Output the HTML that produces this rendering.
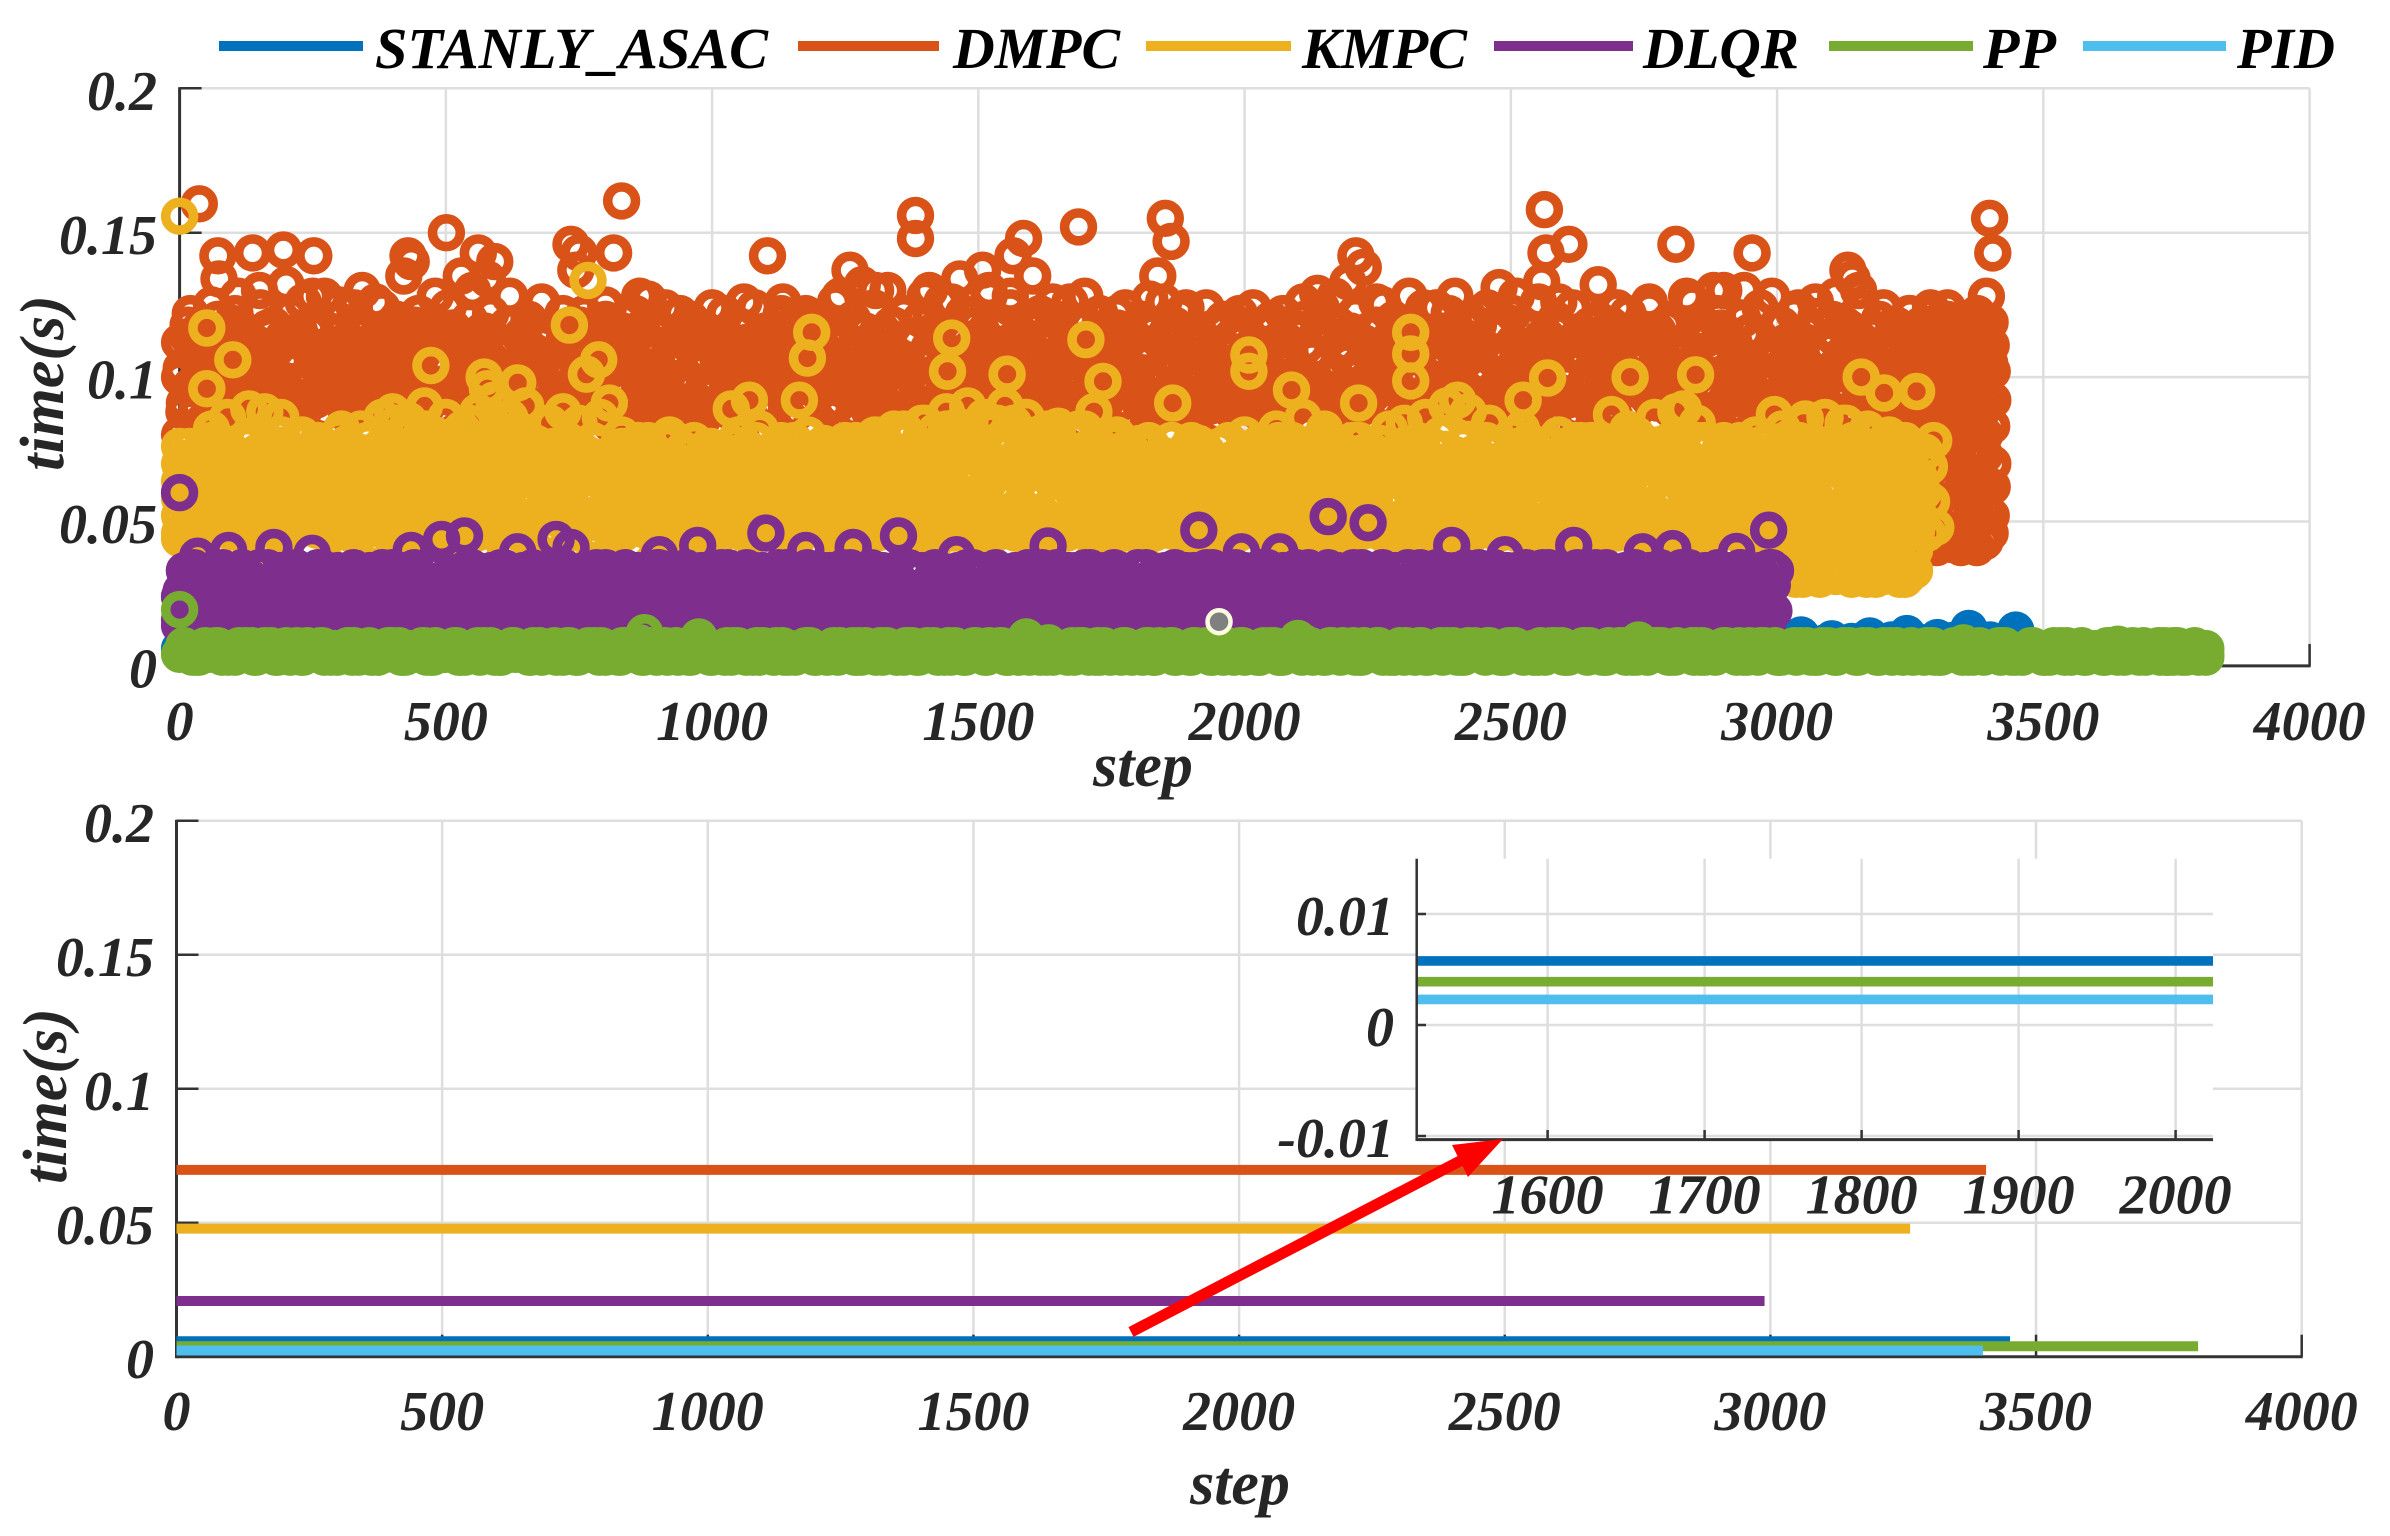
<!DOCTYPE html>
<html lang="en">
<head>
<meta charset="utf-8">
<title>Solve time per step comparison</title>
<style>
html,body{margin:0;padding:0;background:#fff;width:2390px;height:1536px;overflow:hidden}
svg{display:block}
text{font-family:"Liberation Serif",serif;font-weight:bold;font-style:italic}
</style>
</head>
<body>
<svg id="figure" xmlns="http://www.w3.org/2000/svg" width="2390" height="1536" viewBox="0 0 2390 1536">
<rect x="0" y="0" width="2390" height="1536" fill="#ffffff"/>
<defs>
<clipPath id="inset-clip"><rect x="1416.7" y="858.8" width="796.3" height="280.8"/></clipPath>
</defs>
<g id="top-axes"></g>
<g id="bottom-axes"></g>
<g id="inset-axes"></g>
<g>
<line x1="1131" y1="1332" x2="1462" y2="1160" stroke="#ff0000" stroke-width="11"/>
<polygon points="1503,1139 1452,1145 1468,1177" fill="#ff0000"/>
</g>
<g>
<g><rect x="219" y="41" width="144" height="10" fill="#0072BD"/><text x="375" y="68" font-size="58" fill="#000" textLength="393" lengthAdjust="spacingAndGlyphs">STANLY_ASAC</text></g>
<g><rect x="798" y="41" width="141" height="10" fill="#D95319"/><text x="953" y="68" font-size="58" fill="#000" textLength="167" lengthAdjust="spacingAndGlyphs">DMPC</text></g>
<g><rect x="1146" y="41" width="145" height="10" fill="#EDB120"/><text x="1302" y="68" font-size="58" fill="#000" textLength="165" lengthAdjust="spacingAndGlyphs">KMPC</text></g>
<g><rect x="1494" y="41" width="139" height="10" fill="#7E2F8E"/><text x="1643" y="68" font-size="58" fill="#000" textLength="156" lengthAdjust="spacingAndGlyphs">DLQR</text></g>
<g><rect x="1829" y="41" width="144" height="10" fill="#77AC30"/><text x="1983" y="68" font-size="58" fill="#000" textLength="73" lengthAdjust="spacingAndGlyphs">PP</text></g>
<g><rect x="2083" y="41" width="143" height="10" fill="#4DBEEE"/><text x="2237" y="68" font-size="58" fill="#000" textLength="98" lengthAdjust="spacingAndGlyphs">PID</text></g>
</g>
</svg>
<script>
// ---------- axis tick labels ----------
const stepTicks = [0, 500, 1000, 1500, 2000, 2500, 3000, 3500, 4000];
const timeTicks = [0, 0.05, 0.1, 0.15, 0.2];
const timeTickLabels = ['0', '0.05', '0.1', '0.15', '0.2'];
const insetStepTicks = [1600, 1700, 1800, 1900, 2000];
const insetTimeTicks = [-0.01, 0, 0.01];
const insetTimeTickLabels = ['-0.01', '0', '0.01'];

// ---------- mean solve time per controller (seconds) and last step ----------
const meanControllers = ['stanly-asac', 'dmpc', 'kmpc', 'dlqr', 'pp', 'pid'];
const meanTimes = [0.00577, 0.0697, 0.0478, 0.0208, 0.0039, 0.0023];
const meanLastSteps = [3451, 3406, 3263, 2989, 3805, 3400];

// ---------- scatter: dense series sampled every N steps (milliseconds) ----------
const dmpcBandMs = [
112,88,118,96,106,84,116,100,92,120,110,86,104,122,94,82,114,98,108,124,90,102,118,84,112,
96,122,106,88,126,100,116,92,110,128,84,104,120,94,112,86,124,98,118,108,90,126,102,114,96,
84,120,106,92,116,100,122,88,110,96,118,104,86,124,94,112,82,108,120,98,90,116,102,122,86,
110,94,118,100,84,114,106,120,90,98,112,86,116,104,92,122,96,108,82,118,100,88,114,106,94,
120,84,110,98,116,90,104,122,86,112,96,118,102,88,124,94,108,82,114,100,120,92,106,86,116,
98,110,84,122,94,104,118,88,112,100,124,90,106,82,116,96,120,86,108,102,114,92,122,98,84,
118,106,90,112,126,96,102,84,120,108,92,116,88,124,100,110,86,118,94,104,122,82,112,98,120,
90,106,116,86,126,102,94,114,84,122,108,96,118,90,110,128,88,104,116,98,124,84,112,100,120,
92,108,122,86,114,96,120,104,88,126,100,112,84,118,94,106,122,90,110,98,116,86,124,102,114,
92,120,106,84,118,98,126,88,112,104,122,94,108,82,116,100,124,90,106,86,120,96,114,102,118,
84,110,124,92,104,118,86,112,98,122,90,106,116,84,120,100,108,94,124,88,114,102,118,96,110,
86,122,104,92,116,84,126,98,110,88,120,106,94,118,100,112,86,124,90,108,96,116,84,122,102,
114,92,106,120,88,112,100,124,94,84,118,108,96,122,86,110,104,116,90,126,98,114,84,120,102,
92,108,124,88,116,96,112,84,120,104,94,118,86,110,100,122,90,106,114,98,124,84,116,102,92,
120,108,88,112,96,126,100,86,118,106,94,122,90,114,84,110,104,120,98,116,88,124,92,108,102,
118,86,112,96,122,84,106,116,94,126,100,88,110,120,92,104,118,86,114,98,124,90,108,84,120,
102,112,94,118,88,106,122,96,84,116,100,124,90,110,86,120,104,114,92,118,98,108,122,88,112
];
const dmpcFillMs = [
103,91,114,97,108,89,117,100,93,111,105,88,115,99,107,90,113,95,102,116,92,109,98,112,88,
106,94,117,101,90,110,97,114,104,89,108,93,116,99,112,91,105,118,96,103,88,111,94,107,115,
100,90,113,97,109,92,117,102,89,106,95,114,99,111,91,104,116,93,108,88,112,98,105,118,94,
101,110,90,115,97,107,89,113,103,93,117,100,109,92,114,96,105,88,111,99,116,91,106,102,94,
112,89,108,97,118,93,104,115,90,110,99,106,88,113,95,117,101,91,109,96,114,103,89,107,93,
116,98,111,90,105,100,118,92,108,88,113,97,104,115,94,110,91,106,99,117,89,102,112,95,108,
90,116,100,93,109,105,88,114,97,111,91,118,103,95,107,89,113,99,106,92,115,101,88,110,96,
104,117,91,108,94,112,100,89,116,97,105,90,113,103,93,109,118,96,88,111,99,107,92,114,101,
95,110,89,106,116,98,91,104,113,94,108,88,117,100,105,92,111,96,115,90,103,109,97,118,89,
107,93,112,101,90,114,96,105,88,110,99,116,92,103,108,94,117,91,106,100,113,89,98,111,95,
104,115,90,109,97,118,93,102,88,112,106,96,114,91,108,100,117,89,105,94,111,99,116,92,103,
88,110,97,113,90,107,101,118,94,105,89,115,99,109,92,112,96,104,117,91,108,88,114,100,95,
106,90,111,98,116,93,103,89,113,105,96,118,91,109,100,88,115,94,107,99,112,90,104,117,97,
92,110,101,89,114,95,106,116,91,103,98,112,88,108,94,118,100,90,105,97,113,92,109,89,115,
102,96,111,91,107,99,117,88,104,94,114,100,90,110,96,106,116,92,103,89,112,98,108,94,118,
91,105,100,113,88,109,96,115,93,102,107,90,117,99,111,94,104,89,114,97,108,92,116,101,88,
110,95,106,91,113,99,118,93,103,89,109,96,115,100,91,107,94,112,88,105,98,117,92,110,102,
90,114,97,104,89,111,95,116,100,92,108,88,113,96,106,91,118,99,103,94,110,89,115,101,93,
107,97,112,90,105,88,116,99,109,93,102,114,91,106,96,118,89,104,100,111,92,108,95,115,90,
103,97,113,88,110,94,106,117,91,101,96,112,89,108,99,115,92,104,90,114,97,107,88,111,100,
94,118,91,105,98,113,89,109,96,102,116,90,107,93,111,99,88,114,104,92,108,97,117,89,106,
100,112,94,90,115,103,88,110,96,107,91,118,99,105,93,113,89,101,109,95,116,92,104,90,112,
97,106,88,114,100,93,110,91,117,96,103,89,108,99,115,92,105
];
const kmpcBandMs = [
44,60,72,52,66,48,76,56,42,68,62,74,50,64,46,70,58,78,54,40,72,48,66,56,80,
44,62,74,50,68,42,58,76,52,64,46,72,60,82,54,40,70,48,66,78,56,44,74,62,50,
68,84,46,58,72,42,64,76,52,60,80,48,70,56,74,44,66,50,78,62,40,72,54,68,46,
76,58,42,64,80,50,70,46,60,74,54,66,84,44,72,56,40,62,76,48,68,52,78,58,44,
70,64,46,74,54,60,42,76,50,66,72,56,44,62,78,48,68,52,74,40,64,58,70,46,76,
54,44,66,60,72,50,42,74,56,68,46,62,70,52,40,76,58,48,66,72,44,54,64,74,50,
42,68,60,76,46,56,70,52,64,44,74,58,48,78,66,40,54,72,62,46,80,50,68,56,44,
76,60,42,70,52,82,64,46,74,56,48,78,66,44,58,72,50,84,62,40,76,54,68,46,80,
60,44,72,52,66,78,48,56,74,42,64,82,50,70,58,46,76,54,68,44,80,62,40,72,56,
50,66,76,46,60,70,42,54,78,64,48,72,58,44,68,74,52,40,62,76,46,56,70,50,66,
42,72,60,48,74,54,64,44,78,68,50,58,72,46,62,76,40,54,66,80,48,70,56,44,74,
60,50,78,64,42,68,54,72,46,82,58,44,66,76,52,62,48,74,40,70,56,80,46,64,52,
72,44,78,60,50,68,42,76,56,64,46,72,54,80,48,62,74,44,58,70,50,66,76,42,60,
54,72,46,68,78,52,64,44,76,58,48,70,60,42,74,54,66,80,46,62,72,50,44,68,76,
58,42,64,74,52,46,70,60,78,44,56,66,72,48,62,40,76,54,68,50,80,58,44,72,62,
34,52,70,40,60,78,30,48,66,36,56,74,44,32,64,76,50,38,58,72,46,30,68,80,42,
62,34,54,74,44,30,66,50
];
const kmpcFillMs = [
58,70,48,64,76,52,68,46,60,74,54,72,50,66,78,56,62,47,71,59,75,49,65,53,69,
61,47,73,55,67,50,77,63,46,70,57,74,51,65,48,72,60,76,53,68,46,62,75,56,49,
66,52,74,46,60,70,55,78,48,64,72,50,58,76,47,68,54,62,73,49,66,57,75,51,61,
48,69,56,77,46,63,71,53,59,74,50,67,47,78,60,55,72,49,65,76,52,61,46,70,57,
73,51,64,80,47,58,75,54,68,46,62,78,50,71,56,82,48,66,59,74,52,69,46,77,61,
55,72,49,64,80,53,67,47,75,58,62,84,50,70,46,56,76,60,52,78,48,66,73,54,82,
47,63,71,57,79,49,68,52,75,46,60,81,55,66,72,48,58,77,51,64,46,74,61,53,69,
76,47,56,65,50,72,59,78,46,62,54,70,48,75,57,67,51,73,46,60,77,52,64,49,71,
55,63,47,74,58,68,50,76,46,61,53,72,56,65,48,78,59,70,47,52,75,62,46,67,54,
73,49,60,77,51,66,46,57,71,48,64,75,53,59,46,69,78,50,62,55,73,47,67,58,76,
46,52,70,60,48,65,74,54,47,77,57,63,50,72,46,68,56,75,49,61,78,53,66,47,71,
59,74,46,55,64,76,48,69,52,62,73,47,57,78,50,67,46,60,71,54,75,49,65,56,72,
48,63,77,46,58,69,52,74,47,61,55,76,50,66,46,72,59,78,48,53,68,62,75,47,56,
64,80,46,70,52,60,77,49,66,55,82,47,73,58,63,50,79,46,69,54,75,61,48,84,56,
67,47,72,52,81,59,65,46,76,50,62,78,55,70,48,83,57,64,46,74,53,68,80,49,60,
77,47,55,71,63,82,50,66,46,75,58,79,52,69,48,61,84,46,73,56,65,80,49,59,72,
47,78,53,67,62,81,46,70,55,76,50,64,83,48,58,74,46,68,52,79,60,66,47,72,56,
75,49,63,46,77,54,69,59,47,73,51,65,78,46,57,71,48,61,75,53,67,46,74,50,60,
77,56,47,68,63,52,76,46,70,58,49,73,64,47,55,78,50,66,46,72,60,54,75,48,62,
69,46,57,77,51,65,47,74,59,53,71,46,67,76,49,61,55,78,47,63,72,50,46,68,57,
75,52,64,47,70,59,77,48,55,66,46,73,61,50,76,47,58,69,53,74,46,62,78,49,65,
56,71,47,60,75,51,67,46,73,54,63,77,48,58,70,46,52,76,61,49,66,74,47,55,68,
78,50,62,46,72,57,65,47,75,53,69,60,48,77,46,64,56,73,50,67,47,71,59,76,46,
52,63,74,48,68,55,78,47,60,66,50,72,46,76,57,64,49,70,53,75,47,61,67,46,73,
51,58,77,48,65,54,71,46,74,62,49,69,56,78,47,52,66,60,75,46,70,50,64,73,48,
57,76,46,61,68,53,72,47,78,55,63,50,74,46,67,59,70,48,77,52,65,46,72,56,61,
75,47,69,51,64,78,46,58,73,49,66,54,71,47,76,60,46,68,52,62,77,48,56,74,46,
65,70,50,59,47,75,53,67,46,72,61,78,48,55,69,46,63,76,51,57,73,47,66,49,71,
46,60,77,52,64,48,74,56,68,46,70,54,78,47,62,50,75,58,66,46,72,53,61,76,48,
69,47,55,73,60,46,67,78,50,64,57,71,47,75,52,46,65,59,77,48,63,70,46,54,74,
49,68,56,47,76,61,46,72,51,66,78,53,47,59,70,46,64,75,50,57,67,48,73,46,62,
77,52,60,47,69,55,74,46,65,50,78,58,48,71,46,63,76,53,66,47,56,72,49,61,46,
75,68,52,47,64,77,50,58,70,46,73,54,62,48,76,47,66,51,60,74,46,69,57,78,48
];
const kmpcTailSteps = [3005,3020,3035,3050,3065,3080,3095,3110,3125,3140,3155,3170,3185,3200,3215,3230,3245,3258,3005,3020,3035,3050,3065,3080,3095,3110,3125,3140,3155,3170,3185,3200,3215,3230,3245,3258,3000,3015,3030,3045,3060,3075,3090,3105,3120,3135,3150,3165,3180,3195,3210,3225,3240,3255,3262];
const kmpcTailMs = [33,31,30,32,31,30,33,31,32,30,31,33,30,31,32,30,31,33,41,40,42,41,40,43,41,40,42,41,43,40,41,42,40,43,41,40,52,50,51,53,52,50,51,52,50,53,51,52,50,51,53,52,50,51,62];
const dlqrBandMs = [
16,28,22,33,18,30,24,34,15,26,20,32,17,29,23,34,19,27,14,31,21,33,16,25,30,
18,34,22,28,15,32,24,20,33,17,29,26,14,31,23,34,19,27,21,33,16,30,25,18,34,
22,15,29,32,20,26,33,17,24,30,14,34,19,28,22,31,16,25,33,18,27,21,34,15,29,
32,23,17,30,20,34,26,14,31,19,28,33,22,16,25,34,18,30,24,15,32,21,27,33,17,
29,23,14,34,20,31,26,18,33,16,28,22,30,15,34,25,19,32,21,27,17,33,24,14,30,
20,34,28,16,31,23,18,33,26,15,29,21,34,19,32,24,17,27,33,22,14,30,25,18,34,
20,28,16,32,23,31,15,26,33,19,29,21,34,17,24,30,14,33,22,27,18,34,25,16,31,
20,28,33,15,23,34,19,30,26,17,32,21,14,29,33,24,18,31,22,34,16,27,20,30,15,
33,25,19,34,23,17,28,32,21,14,30,26,34,18,24,33,16,29,22,31,15,27,34,20,25,
18,32,23,14,33,29,17,26,34,21,30,16,24,33,19,28,15,32,22,34,18,27,20,31,16,
29,33,24,15,30,21,34,19,26,32,17,23,33,14,28,22,34,18,31,25,16,30,20,34,27,
15,33,23,19,32,26,17,34,21,29,14,31,24,33,18,28,22,16,34,30,20,26,32,17,34
];
const dlqrFillMs = [
26,33,20,29,34,23,31,19,27,33,21,30,25,34,22,28,32,20,26,34,24,31,19,29,33,
22,27,34,21,30,25,33,19,28,32,23,34,20,26,31,24,33,21,29,34,19,27,30,22,33,
25,20,32,28,34,23,19,31,26,33,21,29,24,34,20,30,27,32,22,19,33,25,28,34,21,
31,23,20,33,29,26,34,19,24,32,22,30,27,33,20,25,34,21,28,31,19,23,33,26,29,
34,22,20,32,25,30,19,33,27,21,34,24,29,31,20,26,33,22,28,19,34,23,30,25,32,
21,33,27,20,29,34,24,19,31,26,33,22,28,20,34,25,30,21,32,19,27,33,23,29,34,
20,26,31,22,33,19,28,24,34,21,30,27,32,20,25,33,23,29,19,34,26,31,22,28,33,
20,24,34,21,30,19,27,33,25,32,22,29,34,20,26,31,19,23,33,28,21,34,25,30,20,
27,32,22,33,19,29,24,34,21,26,31,20,28,33,23,19,34,25,30,22,27,32,21,33,20,
29,24,34,19,26,31,22,33,28,20,25,34,21,30,23,32,19,27,33,22,29,34,20,24,31,
26,33,19,28,21,34,25,30,20,32,23,33,27,19,29,34,22,26,31,20,33,24,28,21,34,
19,30,25,32,22,33,20,27,34,23,29,19,31,26,33,21,28,34,20,24,32,22,30,19,33,
25,27,34,21,29,20,31,23,33,26,19,34,22,28,32,20,25,33,21,30,24,34,19,27,31,
22,33,20,29,26,34,21,23,32,19,28,33,25,30,20,34,22,27,31,19,33,24,29,21,34,
26,20,32,23,33,28,19,30,25,34,21,27,33,22,20,31,29,34,19,24,33,26,21,32,28,
20,34,23,30,19,33,25,27,22,34,21,29,31,20,33,24,26,19,34,28,22,32,21,30,33,
20,25,34,23,27,19,33,29,22,31,21,34,26,20,28,33,24,19,32,30,22,34,25,21,33,
27,20,29,34,23,31,19,26,33,22,28,20,34,24,30,21,32,19,33,25,27,34,22,29,20,
31,23,33,21,26,34,19,28,30,22,33,20,24,34,27,21,32,25,19,33,29,22,34,20,26,
31,23,33,19,28,21,34,25,30,20,33,22,27,34,19,29,24,32,21,33,26,20,34,28,33
];
const dlqrLowMs = [
16,14,18,15,17,14,19,16,15,18,14,17,16,19,15,14,18,16,17,15,19,14,16,18,15,
17,14,16,19,15,18,14,17,16,15,19,14,18,16,17,15,14,19,16,18,15,17,14,16,19,
15,18,14,17,16,19,15,14,18,17,16,15,19,14,18,16,15,17,14,19,16,18,15,14,17,
16,19,15,18,14,16,17,15,19,14,18,16,15,17,14,19,18,16,15,14,17,19,16,18,15,
14,17,16,19,15,18,14,16,17,15,14,19,18,16,15,17,14,19,16,18,15,14,17,16,19,
15,18,14,17,16,15,19,14,18,16,17,15,14,19,16,18,15,17,14,16,19,15,14,18,17,
16,15,19,14,18,16,15,17,14,19,16,18,15,14,17,16,19,15,18,14,16,17,15,19,14,
18,16,15,17,14,19,18,16,15,14,17,19,16,18,15,14,17,16,19,15,18,14,16,17,15,
14,19,18,16,15,17,14,19,16,18,15,14,17,16,19,15,18,14,17,16,15,19,14,18,16,
17,15,14,19,16,18,15,17,14,16,19,15,14,18,17,16,15,19,14,18,16,15,17,14,19
];
const ppBandMs = [
4,6,3,7,5,3,6,7,4,3,7,5,6,3,4,7,5,3,6,4,7,3,5,6,4,7,3,6,5,3,7,4,6,3,5,7,4,3,6,7,
5,3,4,6,7,3,5,4,7,6,3,4,7,5,8,6,3,7,4,5,3,8,6,4,3,7,5,6,3,4,7,3,5,6,7,4,3,6,5,7,
3,4,6,7,5,3,7,4,6,3,5,7,3,6,4,7,5,3,6,4,7,3,8,5,6,3,7,4,3,6,5,7,4,3,6,7,5,3,4,7,
6,3,5,7,4,3,6,5,7,3,4,6,8,3,5,7,4,6,3,7,5,4,3,6,7,3,5,4,7,6,3,4,7,5,6,3,7,4,5,3,
6,7,4,3,5,7,6,3,4,7,5,3,6,4,7,3,5,6,7,3,4,6,5,7,3,4,7,6,3,5,4,7,3,6,5,4,7,3,6,5,
7,3,4,6,5,7,3,4,6,7,3,5,4,6,7,3,5,6,4,3,7,5,3,6,4,6,3,5,7,4,3,6,5,7,3,4
];
const ppFillMs = [
7,3,5,4,7,6,3,5,7,4,6,3,7,5,3,4,7,6,3,5,7,4,3,6,7,5,3,4,7,3,6,5,7,3,4,6,7,3,5,4,
6,7,3,5,4,7,3,6,5,7,4,3,7,6,3,5,7,4,3,6,7,5,3,4,6,7,3,5,7,4,6,3,5,7,3,4,6,7,5,3,
7,4,3,6,5,7,3,4,7,6,3,5,4,7,3,6,7,5,3,4,6,7,3,5,4,7,6,3,7,5,3,4,6,7,3,5,7,4,3,6,
7,5,3,4,7,6,3,5,7,3,4,6,7,5,3,4,7,6,3,5,7,4,3,6,5,7,3,4,6,7,3,5,4,7,6,3,7,4,5,3,
6,7,3,5,4,7,6,3,5,7,3,4,6,7,5,3,4,7,3,6,5,7,4,3,6,7,5,3,4,7,6,3,5,7,3,4,6,7,5,3,
4,7,6,3,5,7,3,4,6,7,3,5,4,7,6,3,5,7,4,3,6,7,5,3,4,6,7,3,5,4,7,6,3,5,7,3,4,6
];
const ppCoreMs = [
5,4,6,5,3,6,4,5,7,4,6,3,5,6,4,7,5,3,6,4,5,7,3,6,5,4,6,7,3,5,4,6,5,7,4,3,6,5,4,7,
3,5,6,4,7,5,3,6,4,5,6,7,3,4,5,6,4,7,5,3,6,5,4,6,7,3,5,4,6,5,3,7,4,6,5,3,6,4,7,5,
4,6,3,5,7,4,6,5,3,6,4,7,5,3,6,4,5,7,3,6,4,5,6,3,7,5,4,6,3,5,7,4,6,5,3,6,7,4,5,3,
6,4,7,5,3,6,5,4,7,3,6,5,4,6,3,7,5,4,6,3,5,7,4,6,3,5,4,7,6,3,5,4,6,7,3,5,6,4,3,7,
5,6,4,3,7,5,4,6,3,5,7,6,4,3,5,7,4,6,5,3,7,4,6,5,3,4,7,6,5,3,4,6,7,5,3,4,6,5,7,3,
4,6,5,3,7,4,6,5,3,7,6,4,5,3,6,7,4,5,3,6,4,7,5,3,6,4,5,7,3,4,6,5,7,3,6,4,5,3,7,6,
4,5,3,7,6,4,5,3,6,7,4,5,6,3,7,4,5,6,3,4,7,5,6,3,4,7,6,5,3,4,7,6,3,5,4,7,6,3,5,4,
6,7,3,5,4,6,7,3,5,6,4,7,3,5,6,4,3,7,5,6,4,3,7,6,5,4,3,7,6,5,3,4,6,7,5,3,4,6,5,7,
3,4,6,5,7,3,6,4,5,7,3,6,4,5,3,7,6,4,5,3,6,7,5,4,3,6,7,4,5,3,6,7,4,5,6,3,4,7,5,6,
3,4,7,6,5,3,4,6,7,5,3,4,6,5,7,3,4,6,5,3,7,4,6,5,3,7,4,6,3,5,7,4,6,3,5,4,7,6,3,5,
4,7,6,5,3,4,7,5,6,3,4,7,5,3,6,4,7,5,3,6,4,5,7,3,6,4,5,3,7,6,4,5,3,6,7,4,5,3,6,4,
5,7,3,6,5,4,7,3,6,5,4,3,7,6,5,4,3,6,7,5,4,3,6,5,7,4,3,6,5
];

// ---------- scatter: individually read points (step, milliseconds) ----------
const asacSteps = [0,0,500,1500,2500,3045,3103,3140,3174,3215,3244,3301,3330,3360,3400,3448,3010,3030,3060,3075,3090,3120,3155,3190,3205,3230,3260,3275,3290,3315,3345,3375,3390,3415,3430,3045,3174,3244,3360,3360,3448,3448,3103,3301];
const asacMs = [24,6,6,6,6,10.7,9.4,8.5,10.4,9,11.2,9.8,8.8,13,9,12.4,8,8.5,8,7.5,8,7.5,8,8,7.5,8,8.5,8,8,7.5,8,9,8,7.5,8,7.7,7.4,8.2,10,8,9.4,7,6.4,6.8];
const dmpcCrestSteps = [20,60,110,150,200,250,300,380,450,480,550,620,680,760,800,880,940,1000,1060,1130,1190,1240,1330,1400,1450,1520,1560,1640,1700,1760,1890,1990,2050,2110,2170,2260,2360,2440,2510,2590,2700,2760,2830,2900,2990,3040,3110,3200,3250,3320];
const dmpcCrestMs = [122,125,128,130,132,128,125,124,122,128,130,128,126,122,125,127,122,124,126,122,120,128,130,128,126,130,128,126,128,122,124,122,120,126,128,125,124,122,128,126,124,126,128,130,128,124,128,124,122,124];
const dmpcPeakSteps = [37,72,137,195,252,74,343,429,435,421,501,561,529,592,578,735,750,744,815,830,864,1104,1133,1259,1282,1307,1382,1382,1408,1465,1508,1585,1565,1602,1688,1851,1862,1837,1822,1951,2137,2209,2223,2194,2309,2395,2478,2563,2566,2609,2558,2664,2810,2881,2953,2938,3073,3133,3141,3153,3290,3399,3405,3393,0,0,0];
const dmpcPeakMs = [160,142,143,144,142,134,130,142,140,135,150,143,135,140,134,146,143,137,143,161,128,142,126,137,132,130,156,148,130,134,137,148,142,135,152,155,147,135,127,117,129,142,138,133,128,128,131,158,143,146,133,132,146,130,143,130,121,137,134,130,122,155,143,128,100,80,60];
const dmpcTailSteps = [3270,3285,3300,3315,3330,3345,3360,3375,3390,3400,3270,3285,3300,3315,3330,3345,3360,3375,3390,3402,3270,3285,3300,3315,3330,3345,3360,3375,3390,3404,3270,3285,3300,3315,3330,3345,3360,3375,3390,3405,3270,3285,3300,3315,3330,3345,3360,3375,3390,3403,3270,3285,3300,3315,3330,3345,3360,3375,3390,3405,3270,3285,3300,3315,3330,3345,3360,3375,3390,3404,3270,3285,3300,3315,3330,3345,3360,3375,3390,3402,3270,3285,3300,3315,3330,3345,3360,3375,3390,3400];
const dmpcTailMs = [41,42,41,43,42,41,42,41,43,46,51,52,50,53,51,52,50,51,53,52,61,60,62,61,63,60,62,61,60,62,71,72,70,73,71,70,72,71,73,70,81,80,82,81,83,80,82,81,80,83,91,92,90,93,91,90,92,91,93,92,101,100,102,101,103,100,102,101,100,102,110,111,109,112,110,109,111,110,112,111,118,117,119,116,118,117,119,116,118,119];
const kmpcCrestSteps = [60,90,130,160,190,230,260,300,340,380,400,430,460,500,530,560,590,620,650,690,720,750,790,830,880,920,1050,1090,1130,1180,1250,1320,1360,1400,1440,1480,1510,1550,1590,1630,1700,1760,1820,1900,2000,2060,2110,2150,2210,2300,2340,2380,2420,2460,2520,2590,2650,2720,2770,2810,2850,2900,3010,3050,3090,3130,3170,3210,3240,0,0,0,0,0,0];
const kmpcCrestMs = [82,86,89,88,86,80,78,80,82,86,88,85,90,86,82,88,92,86,90,84,88,84,86,80,78,80,80,82,78,80,78,80,82,84,88,90,86,90,86,82,82,78,78,78,80,82,86,82,78,84,86,90,88,84,82,80,78,82,86,88,84,78,82,84,86,84,82,80,78,46,52,58,64,70,76];
const kmpcPeakSteps = [0,51,100,51,767,732,787,764,472,572,1450,1442,1554,1702,1734,1717,1187,1179,1164,1070,1036,1865,2008,2008,2088,2214,2312,2312,2312,2569,2724,2847,3158,3201,3262,3253,3053,2995,3124,2400,2523,2689,2824,807,578,635];
const kmpcPeakMs = [155.7,117,106,96,133.5,118,106,101,104,100,113.5,102,101,113,98.5,88,115.5,106.6,92,92,89,91,107.7,102,95.5,91,115.5,108,98.7,99.7,100,100.8,100,94.5,95,74.4,85.5,87,84,92,92,87,89,91,96,98];
const dlqrPeakSteps = [0,1101,707,535,492,973,901,1176,1350,1265,1914,2157,2232,2389,2618,2804,2984,2924,2747,2489,1994,2066,1631,1459,34,92,177,249,435,635,735,0,0];
const dlqrPeakMs = [60,46,43.8,45,43.8,41.7,38.5,40,45,41,47,51.7,49.6,41.7,41.7,40.6,47,39.6,39.5,38.5,39.5,39.5,41.5,38.5,38,40,41,39,40,39.5,41,14,24];
const ppPeakSteps = [0,873,975,1590,2100,2740,3350,3640,3720,3728,3736,3744,3752,3760,3768,3776,3784,3792,3800,3805,3805,3805,3704,3712];
const ppPeakMs = [19.5,11.5,10,10,9.5,9,8,7.5,4,6,3,7,5,3,6,4,7,3,5,4,6,3,6,4];
const pidSteps = [30, 1000, 2000, 3000, 3380];
const pidMs = [4, 4, 4, 4, 4];
const dataTipSteps = [1952];
const dataTipMs = [15.3];

// ---------- palette ----------
const controllerColors = {
  'stanly-asac': '#0072BD', dmpc: '#D95319', kmpc: '#EDB120',
  dlqr: '#7E2F8E', pp: '#77AC30', pid: '#4DBEEE'
};

// ---------- axis functions ----------
const NS = 'http://www.w3.org/2000/svg';
const topX = v => 179.6 + v * 0.5325;
const topY = v => 665.9 - v * 2888;
const botX = v => 176.5 + v * 0.5313;
const botY = v => 1356.7 - v * 2680;
const insX = v => 1547.6 + (v - 1600) * 1.57;
const insY = v => 1025 - v * 11100;

const topG = document.getElementById('top-axes');
const botG = document.getElementById('bottom-axes');
const insG = document.getElementById('inset-axes');

function make(parent, tag, attrs, content) {
  const el = document.createElementNS(NS, tag);
  for (const k in attrs) el.setAttribute(k, attrs[k]);
  if (content !== undefined) el.textContent = content;
  parent.appendChild(el);
  return el;
}
const GRID = '#dedede';
const AXIS = '#333333';
const TICKTEXT = '#262626';

function drawFrame(g, xf, yf, xTickList, yTickList, yLabels, prefix, xLabelBase, yLabelRight) {
  xTickList.forEach(v => {
    const l = make(g, 'line', {x1: xf(v), x2: xf(v), y1: yf(0.2), y2: yf(0), stroke: GRID, 'stroke-width': 2.5});
    
    
  });
  yTickList.forEach(v => {
    const l = make(g, 'line', {x1: xf(0), x2: xf(4000), y1: yf(v), y2: yf(v), stroke: GRID, 'stroke-width': 2.5});
    
    
  });
  const yAxis = make(g, 'line', {x1: xf(0), x2: xf(0), y1: yf(0.2) - 1, y2: yf(0) + 1.5, stroke: AXIS, 'stroke-width': 3});
  
  
  const xAxis = make(g, 'line', {x1: xf(0), x2: xf(4000) + 1, y1: yf(0), y2: yf(0), stroke: AXIS, 'stroke-width': 3});
  
  
  xTickList.forEach(v => {
    const t = make(g, 'line', {x1: xf(v), x2: xf(v), y1: yf(0), y2: yf(0) - 22, stroke: AXIS, 'stroke-width': 2.5});
    
    
    const lab = make(g, 'text', {x: xf(v), y: xLabelBase, 'font-size': 56, fill: TICKTEXT, 'text-anchor': 'middle'}, String(v));
    
    
  });
  yTickList.forEach((v, i) => {
    const t = make(g, 'line', {x1: xf(0), x2: xf(0) + 22, y1: yf(v), y2: yf(v), stroke: AXIS, 'stroke-width': 2.5});
    
    
    const lab = make(g, 'text', {x: yLabelRight, y: yf(v) + 21.5, 'font-size': 56, fill: TICKTEXT, 'text-anchor': 'end'}, yLabels[i]);
    
    
  });
}

// ---------- top panel ----------
drawFrame(topG, topX, topY, stepTicks, timeTicks, timeTickLabels, 'top', 740, 157);
const topXTitle = make(topG, 'text', {x: 1143, y: 786, 'font-size': 62, fill: TICKTEXT, 'text-anchor': 'middle'}, 'step');


const topYTitle = make(topG, 'text', {x: 0, y: 0, 'font-size': 62, fill: TICKTEXT, 'text-anchor': 'middle', transform: 'translate(63 383) rotate(-90)'}, 'time(s)');



function ring(parent, step, ms, color, series) {
  const c = make(parent, 'circle', {cx: topX(step).toFixed(1), cy: topY(ms / 1000).toFixed(1), r: 13.9, fill: 'none', stroke: color, 'stroke-width': 9.6});
  
  
}
function plotListed(parent, steps, ms, series) {
  steps.forEach((s, i) => ring(parent, s, ms[i], controllerColors[series], series));
}
function plotSampled(parent, ms, stride, offset, series) {
  ms.forEach((m, i) => ring(parent, offset + i * stride, m, controllerColors[series], series));
}
const asacGroup = make(topG, 'g', {});


plotListed(asacGroup, asacSteps, asacMs, 'stanly-asac');

const dmpcGroup = make(topG, 'g', {});


plotSampled(dmpcGroup, dmpcBandMs, 8, 0, 'dmpc');
plotSampled(dmpcGroup, dmpcFillMs, 6, 3, 'dmpc');
plotListed(dmpcGroup, dmpcTailSteps, dmpcTailMs, 'dmpc');
plotListed(dmpcGroup, dmpcCrestSteps, dmpcCrestMs, 'dmpc');
plotListed(dmpcGroup, dmpcPeakSteps, dmpcPeakMs, 'dmpc');

const kmpcGroup = make(topG, 'g', {});


plotSampled(kmpcGroup, kmpcBandMs, 8, 0, 'kmpc');
plotSampled(kmpcGroup, kmpcFillMs, 4, 2, 'kmpc');
plotListed(kmpcGroup, kmpcTailSteps, kmpcTailMs, 'kmpc');
plotListed(kmpcGroup, kmpcCrestSteps, kmpcCrestMs, 'kmpc');
plotListed(kmpcGroup, kmpcPeakSteps, kmpcPeakMs, 'kmpc');

const dlqrGroup = make(topG, 'g', {});


plotSampled(dlqrGroup, dlqrBandMs, 10, 0, 'dlqr');
plotSampled(dlqrGroup, dlqrFillMs, 6, 3, 'dlqr');
plotSampled(dlqrGroup, dlqrLowMs, 12, 6, 'dlqr');
plotListed(dlqrGroup, dlqrPeakSteps, dlqrPeakMs, 'dlqr');

const pidGroup = make(topG, 'g', {});


plotListed(pidGroup, pidSteps, pidMs, 'pid');

const ppGroup = make(topG, 'g', {});


plotSampled(ppGroup, ppBandMs, 16, 0, 'pp');
plotSampled(ppGroup, ppFillMs, 16, 8, 'pp');
plotSampled(ppGroup, ppCoreMs, 8, 4, 'pp');
plotListed(ppGroup, ppPeakSteps, ppPeakMs, 'pp');

dataTipSteps.forEach((s, i) => {
  const tip = make(topG, 'circle', {cx: topX(s), cy: topY(dataTipMs[i] / 1000), r: 11.5, fill: '#808080', stroke: '#fdfbe0', 'stroke-width': 4.5});
  
  
});

// ---------- bottom panel ----------
drawFrame(botG, botX, botY, stepTicks, timeTicks, timeTickLabels, 'bottom', 1430, 154);
const botXTitle = make(botG, 'text', {x: 1240, y: 1504, 'font-size': 62, fill: TICKTEXT, 'text-anchor': 'middle'}, 'step');


const botYTitle = make(botG, 'text', {x: 0, y: 0, 'font-size': 62, fill: TICKTEXT, 'text-anchor': 'middle', transform: 'translate(66 1096) rotate(-90)'}, 'time(s)');



meanControllers.forEach((name, i) => {
  const l = make(botG, 'line', {x1: botX(0), x2: botX(meanLastSteps[i]), y1: botY(meanTimes[i]), y2: botY(meanTimes[i]), stroke: controllerColors[name], 'stroke-width': 10});
  
  
});

// ---------- inset ----------
const insetBg = make(insG, 'rect', {x: 1416.7, y: 858.8, width: 796.3, height: 280.8, fill: '#ffffff'});


insetStepTicks.forEach(v => {
  const g = make(insG, 'line', {x1: insX(v), x2: insX(v), y1: 858.8, y2: 1139.6, stroke: GRID, 'stroke-width': 2.5});
  
  
});
insetTimeTicks.forEach(v => {
  const g = make(insG, 'line', {x1: 1416.7, x2: 2213, y1: insY(v), y2: insY(v), stroke: GRID, 'stroke-width': 2.5});
  
  
});
const insetClip = make(insG, 'g', {'clip-path': 'url(#inset-clip)'});


meanControllers.forEach((name, i) => {
  const l = make(insetClip, 'line', {x1: 1416.7, x2: Math.min(insX(meanLastSteps[i]), 2213), y1: insY(meanTimes[i]), y2: insY(meanTimes[i]), stroke: controllerColors[name], 'stroke-width': 9.6});
  
  
});
const insetY = make(insG, 'line', {x1: 1416.7, x2: 1416.7, y1: 858.8, y2: 1141, stroke: AXIS, 'stroke-width': 2.5});


const insetX = make(insG, 'line', {x1: 1416.7, x2: 2213, y1: 1139.6, y2: 1139.6, stroke: AXIS, 'stroke-width': 3});


insetStepTicks.forEach(v => {
  const t = make(insG, 'line', {x1: insX(v), x2: insX(v), y1: 1139.6, y2: 1130, stroke: AXIS, 'stroke-width': 2.5});
  
  
  const lab = make(insG, 'text', {x: insX(v), y: 1213.6, 'font-size': 56, fill: TICKTEXT, 'text-anchor': 'middle'}, String(v));
  
  
});
insetTimeTicks.forEach((v, i) => {
  const t = make(insG, 'line', {x1: 1416.7, x2: 1426, y1: insY(v), y2: insY(v), stroke: AXIS, 'stroke-width': 2.5});
  
  
  const lab = make(insG, 'text', {x: 1394, y: insY(v) + 21, 'font-size': 56, fill: TICKTEXT, 'text-anchor': 'end'}, insetTimeTickLabels[i]);
  
  
});
</script>
</body>
</html>
